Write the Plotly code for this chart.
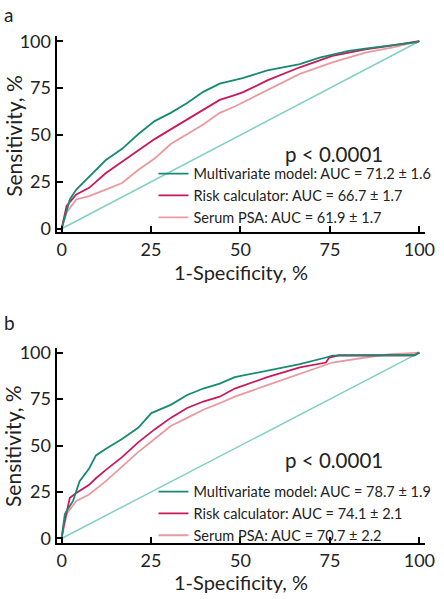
import plotly.graph_objects as go

W, H = 444, 599
FONT = "Lato"

# ---- Panel a data (1-Specificity %, Sensitivity %) ----
a_multi_x = [0, 2.3, 4.1, 7.7, 12.3, 16.9, 21.4, 26.0, 30.5, 35.1, 39.6, 44.2, 48.4, 50.6, 57.5, 66.6, 72.1, 80.3, 84.9, 91.2, 99.4, 100]
a_multi_y = [0, 15.6, 20.9, 27.8, 36.5, 42.6, 50.4, 57.4, 61.8, 67.0, 73.0, 77.4, 79.5, 80.3, 84.4, 87.8, 91.3, 94.8, 96.0, 97.4, 99.5, 100]
a_risk_x = [0, 1.4, 4.1, 7.7, 12.3, 16.9, 21.4, 26.0, 30.5, 35.1, 39.6, 44.2, 48.4, 50.6, 57.5, 66.6, 75.7, 84.9, 91.2, 99.4, 100]
a_risk_y = [0, 12.2, 18.3, 21.8, 29.6, 35.7, 41.7, 47.8, 53.0, 58.3, 63.5, 68.7, 71.3, 72.7, 79.1, 86.1, 92.2, 95.7, 97.4, 99.5, 100]
a_psa_x = [0, 1.4, 4.1, 7.7, 12.3, 16.9, 21.4, 26.0, 30.5, 35.1, 39.6, 44.2, 48.4, 53.0, 57.5, 66.6, 75.7, 84.9, 93.0, 100]
a_psa_y = [0, 8.7, 15.6, 17.4, 20.9, 24.4, 31.3, 37.4, 45.2, 50.4, 55.6, 61.8, 65.2, 69.6, 73.9, 82.6, 88.7, 93.9, 96.9, 100]

# ---- Panel b data ----
b_multi_x = [0, 0.9, 3.2, 5.0, 7.7, 9.6, 12.3, 16.9, 21.4, 25.1, 30.5, 35.1, 39.6, 44.2, 48.4, 57.5, 66.6, 73.9, 75.7, 98.6, 100]
b_multi_y = [0, 13.2, 20.2, 30.7, 37.7, 44.7, 48.2, 53.5, 59.6, 67.5, 71.9, 77.2, 80.7, 83.3, 86.8, 90.3, 93.8, 97.4, 98.4, 98.6, 100]
b_risk_x = [0, 0.5, 2.3, 4.1, 7.7, 9.6, 12.3, 16.9, 21.4, 26.0, 30.5, 35.1, 39.6, 44.2, 48.4, 57.5, 66.6, 73.9, 74.8, 77.5, 98.6, 100]
b_risk_y = [0, 6.1, 21.9, 24.5, 28.9, 32.4, 36.8, 43.8, 51.7, 58.7, 64.9, 70.2, 73.7, 76.3, 80.7, 86.8, 92.1, 94.7, 97.4, 98.6, 98.6, 100]
b_psa_x = [0, 1.4, 4.1, 7.7, 12.3, 16.9, 21.4, 26.0, 30.5, 35.1, 39.6, 44.2, 48.4, 57.5, 66.6, 75.7, 84.9, 91.2, 100]
b_psa_y = [0, 13.2, 20.2, 23.7, 30.7, 38.6, 46.5, 53.5, 60.5, 64.9, 69.3, 72.8, 76.3, 82.5, 88.6, 94.7, 97.4, 99.1, 100]

diag = [0, 100]
ticks = [0, 25, 50, 75, 100]
tick_text = ["0", "25", "50", "75", "100"]

a_names = ["Multivariate model: AUC = 71.2 \u00b1 1.6",
           "Risk calculator: AUC = 66.7 \u00b1 1.7",
           "Serum PSA: AUC = 61.9 \u00b1 1.7"]
b_names = ["Multivariate model: AUC = 78.7 \u00b1 1.9",
           "Risk calculator: AUC = 74.1 \u00b1 2.1",
           "Serum PSA: AUC = 70.7 \u00b1 2.2"]

C_MULTI = "#178a73"
C_RISK = "#c9195d"
C_PSA = "#e89a9e"
C_DIAG = "#82d0c2"

fig = go.Figure()

def add_panel(xa, ya, leg, names, series):
    fig.add_trace(go.Scatter(x=diag, y=diag, mode="lines", line=dict(color=C_DIAG, width=1.5),
                             showlegend=False, xaxis=xa, yaxis=ya, hoverinfo="skip"))
    for idx in [2, 1, 0]:
        xs, ys = series[idx]
        fig.add_trace(go.Scatter(x=xs, y=ys, mode="lines", name=names[idx],
                                 line=dict(color=[C_MULTI, C_RISK, C_PSA][idx], width=1.8),
                                 xaxis=xa, yaxis=ya, legend=leg, legendrank=idx + 1))

add_panel("x", "y", "legend", a_names,
          [(a_multi_x, a_multi_y), (a_risk_x, a_risk_y), (a_psa_x, a_psa_y)])
add_panel("x2", "y2", "legend2", b_names,
          [(b_multi_x, b_multi_y), (b_risk_x, b_risk_y), (b_psa_x, b_psa_y)])

def px_x(p): return p / W
def px_y(p): return 1 - p / H

axis_common = dict(showline=True, linecolor="black", linewidth=2, ticks="inside",
                   ticklen=6, tickwidth=2, tickcolor="black", showgrid=False, zeroline=False,
                   tickvals=ticks, ticktext=tick_text, ticklabeloverflow="allow",
                   tickfont=dict(family=FONT, size=18, color="#222"))

leg_font = dict(family=FONT, size=14.5, color="#222")
fig.update_layout(
    width=W, height=H, autosize=False, margin=dict(l=0, r=0, t=0, b=0),
    plot_bgcolor="white", paper_bgcolor="white",
    xaxis=dict(axis_common, range=[-1.4, 101.5], domain=[px_x(57.9), px_x(434.5)], anchor="y"),
    yaxis=dict(axis_common, range=[-2.0, 102.6], domain=[px_y(230.5), px_y(30)], anchor="x"),
    xaxis2=dict(axis_common, range=[-1.4, 101.5], domain=[px_x(57.9), px_x(434.5)], anchor="y2"),
    yaxis2=dict(axis_common, range=[-2.6, 102.6], domain=[px_y(548.2), px_y(348.4)], anchor="x2"),
    legend=dict(x=px_x(157), y=px_y(154), xanchor="left", yanchor="top",
                bgcolor="rgba(0,0,0,0)", font=leg_font, itemwidth=30, tracegroupgap=0),
    legend2=dict(x=px_x(157), y=px_y(479), xanchor="left", yanchor="top",
                 bgcolor="rgba(0,0,0,0)", font=leg_font, itemwidth=30, tracegroupgap=0),
    showlegend=True,
)

lab_font = dict(family=FONT, size=19, color="#222")
title_font = dict(family=FONT, size=20, color="#222")
fig.add_annotation(text="a", x=px_x(2), y=px_y(8), xref="paper", yref="paper",
                   xanchor="left", yanchor="middle", showarrow=False, font=lab_font)
fig.add_annotation(text="b", x=px_x(2), y=px_y(322), xref="paper", yref="paper",
                   xanchor="left", yanchor="middle", showarrow=False, font=lab_font)
for yc in [132, 449]:
    fig.add_annotation(text="Sensitivity, %", x=px_x(13), y=px_y(yc), xref="paper", yref="paper",
                       xanchor="center", yanchor="middle", textangle=-90, showarrow=False,
                       font=dict(family=FONT, size=21, color="#222"))
for yc in [271, 588]:
    fig.add_annotation(text="1-Specificity, %", x=px_x(247), y=px_y(yc), xref="paper", yref="paper",
                       xanchor="center", yanchor="middle", showarrow=False, font=title_font)
for yc in [150, 463]:
    fig.add_annotation(text="p < 0.0001", x=px_x(342), y=px_y(yc), xref="paper", yref="paper",
                       xanchor="center", yanchor="middle", showarrow=False,
                       font=dict(family=FONT, size=20.5, color="#222"))

fig.write_html("out.html",
               config={"responsive": False, "displayModeBar": False},
               post_script="document.body.style.margin='0';document.body.style.overflow='hidden';")
